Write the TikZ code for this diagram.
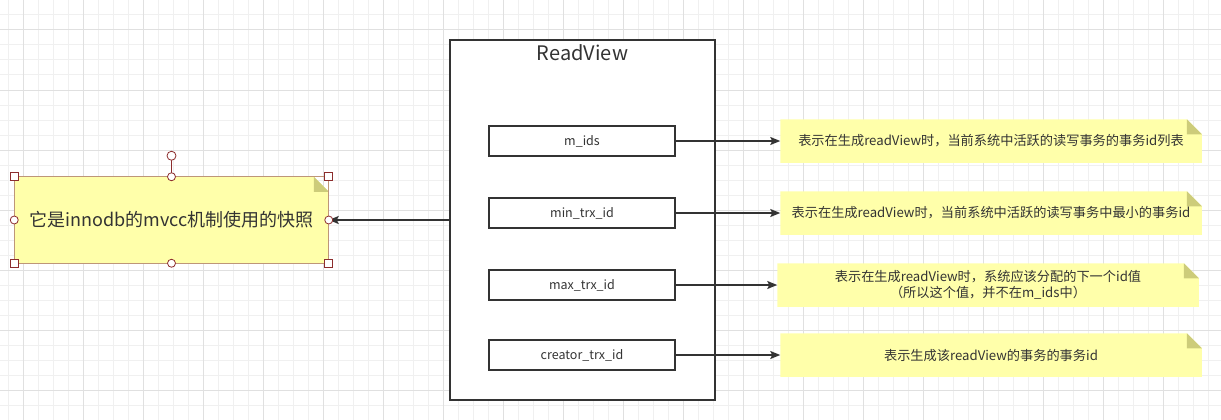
\documentclass[tikz,border=0pt]{standalone}
\usepackage{fontspec}
\setmainfont{Noto Sans CJK SC}
\usetikzlibrary{arrows.meta,backgrounds}
\definecolor{ink}{RGB}{51,51,51}
\definecolor{notefill}{RGB}{255,255,170}
\definecolor{notefold}{RGB}{205,204,122}
\definecolor{seltone}{RGB}{140,45,45}
\definecolor{selline}{RGB}{190,150,120}
% yellow sticky note behind node #1
\newcommand{\notebg}[1]{%
  \fill[notefill] (#1.south west) -- (#1.north west) -- ([xshift=-15pt]#1.north east) -- ([yshift=-15pt]#1.north east) -- (#1.south east) -- cycle;
  \fill[notefold] ([xshift=-15pt]#1.north east) -- ([xshift=-15pt,yshift=-15pt]#1.north east) -- ([yshift=-15pt]#1.north east) -- cycle;}
\begin{document}
\begin{tikzpicture}[x=1pt,y=-1pt,color=ink,line width=1.5pt,>={Stealth[length=10pt,width=8pt,inset=2pt]}]
	\tikzstyle{every node}=[text=ink,inner sep=0pt]
	\tikzstyle{RV}=[rectangle,draw=ink,fill=white,line width=1.6pt,minimum width=265,minimum height=360] % RV = ReadView frame
	\tikzstyle{FD}=[rectangle,draw=ink,fill=white,line width=1.6pt,minimum width=186,minimum height=30,font=\fontsize{12.5}{15}\selectfont] % FD = field box
	\tikzstyle{NT}=[rectangle,minimum width=420,minimum height=42,align=center,font=\fontsize{13.2}{16}\selectfont] % NT = note
	\tikzstyle{HD}=[draw=seltone,fill=white,line width=0.8pt] % HD = selection handle
	\useasboundingbox (0,0) rectangle (1221,420);
	% grid
	\begin{scope}[on background layer]
		\foreach \x in {8,23,...,1223} \draw[black!6,line width=1pt] (\x,0) -- (\x,420);
		\foreach \y in {0,15,...,420} \draw[black!6,line width=1pt] (0,\y) -- (1221,\y);
		\foreach \x in {23,83,...,1223} \draw[black!12,line width=1pt] (\x,0) -- (\x,420);
		\foreach \y in {30,90,...,420} \draw[black!12,line width=1pt] (0,\y) -- (1221,\y);
	\end{scope}
	% ReadView
	\node[RV] (rv) at (582.5,220) {};
	\node[font=\fontsize{20}{24}\selectfont] (title) at (582.5,53) {ReadView};
	\node[FD] (mids) at (582,141) {m\_ids};
	\node[FD] (minid) at (582,213) {min\_trx\_id};
	\node[FD] (maxid) at (582,285) {max\_trx\_id};
	\node[FD] (crid) at (582,355) {creator\_trx\_id};
	% notes
	\node[NT] (n1) at (991,141) {表示在生成readView时，当前系统中活跃的读写事务的事务id列表};
	\node[NT] (n2) at (991,213) {表示在生成readView时，当前系统中活跃的读写事务中最小的事务id};
	\node[NT] (n3) at (988,285) {表示在生成readView时，系统应该分配的下一个id值\\（所以这个值，并不在m\_ids中）};
	\node[NT] (n4) at (991,355) {表示生成该readView的事务的事务id};
	\node[NT,minimum width=313,minimum height=85,font=\fontsize{18}{22}\selectfont] (snap) at (171.5,220) {它是innodb的mvcc机制使用的快照};
	\begin{scope}[on background layer]
		\notebg{n1} \notebg{n2} \notebg{n3} \notebg{n4} \notebg{snap}
	\end{scope}
	% arrows
	\draw[->] (mids.east) -- (n1.west);
	\draw[->] (minid.east) -- (n2.west);
	\draw[->] (maxid.east) -- (n3.west);
	\draw[->] (crid.east) -- (n4.west);
	\draw[->] (rv.west) -- (snap.east);
	% selection
	\draw[selline,line width=0.8pt] (snap.north west) rectangle (snap.south east);
	\coordinate (rot) at ([yshift=21pt]snap.north);
	\draw[seltone,line width=1pt] (snap.north) -- (rot);
	\draw[HD] (rot) circle (4.5);
	\foreach \a in {north west,north east,south west,south east}
		\draw[HD] ([xshift=-4pt,yshift=-4pt]snap.\a) rectangle ([xshift=4pt,yshift=4pt]snap.\a);
	\foreach \a in {north,south,west,east}
		\draw[HD] (snap.\a) circle (4);
\end{tikzpicture}
\end{document}
